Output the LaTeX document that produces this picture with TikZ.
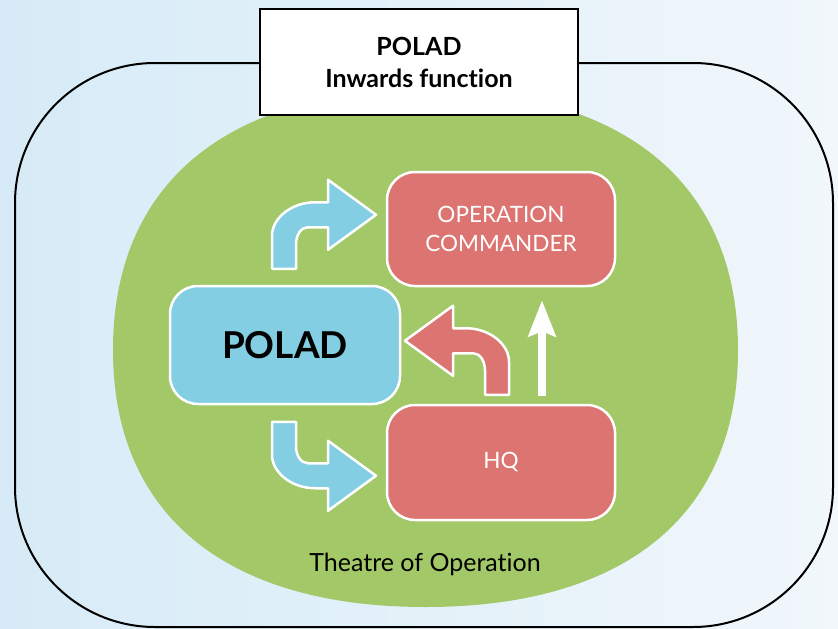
\documentclass[tikz,border=0pt]{standalone}
\usepackage{fontspec}
\setmainfont{Lato}[Ligatures={NoCommon,NoRare}]
\usetikzlibrary{arrows.meta,calc}
\definecolor{bgleft}{HTML}{D6EBF7}
\definecolor{bgright}{HTML}{F1F7FB}
\definecolor{leafgreen}{HTML}{A2C867}
\definecolor{polblue}{HTML}{84CEE3}
\definecolor{cmdred}{HTML}{DC7571}
% outline of a bent block arrow: shaft rising from below, turning right
\newcommand\bendarrowpath{(-12,54) -- (-12,21)
  .. controls (-12,3) and (8,-12.5) .. (31,-12.5) -- (44,-12.5) -- (44,-35)
  -- (92,0) -- (44,35) -- (44,12.5) -- (24,12.5)
  .. controls (17,12.5) and (12,20) .. (12,30) -- (12,54) -- cycle}
\begin{document}
\begin{tikzpicture}[x=1pt,y=-1pt,
  unit/.style={rounded corners=28pt, draw=white, line width=2.5pt,
    minimum width=228pt, minimum height=114pt, align=center},
  redunit/.style={unit, fill=cmdred, text=white,
    font=\fontsize{22.5}{29}\selectfont},
  blockarrow/.style={draw=white, line width=2.5pt, line join=round}]
\useasboundingbox (0,0) rectangle (838,629);
% backdrop
\shade[left color=bgleft, right color=bgright] (0,0) rectangle (838,629);
% theatre boundary
\node[draw=black, line width=2pt, rounded corners=140pt,
  minimum width=818pt, minimum height=564pt] (outer) at (424,345) {};
% green area of the theatre
\fill[leafgreen] (738,350)
  .. controls (738,515) and (625,607) .. (425.5,607)
  .. controls (226,607) and (113,515) .. (113,350)
  .. controls (113,184) and (226,90) .. (425.5,90)
  .. controls (625,90) and (738,184) .. (738,350) -- cycle;
% actors
\node[unit, fill=polblue, minimum width=230pt, minimum height=118pt,
  font=\bfseries\fontsize{37}{40}\selectfont] (polad) at (285,345) {POLAD};
\node[redunit] (oc) at (501,229) {OPERATION\\COMMANDER};
\node[redunit, minimum height=115pt] (hq) at (501,462.5) {HQ};
% bent flows
\begin{scope}[shift={($(polad.north)+(-1,-70)$)}]
  \filldraw[blockarrow, fill=polblue] \bendarrowpath;
\end{scope}
\begin{scope}[shift={($(polad.south)+(-1,70.5)$)}, yscale=-1]
  \filldraw[blockarrow, fill=polblue] \bendarrowpath;
\end{scope}
\begin{scope}[shift={($(hq.north)+(-4,-63)$)}, xscale=-1]
  \filldraw[blockarrow, fill=cmdred] \bendarrowpath;
\end{scope}
% HQ reports up to the commander
\draw[white, line width=8pt, -{Stealth[length=36pt,width=27pt,inset=5pt]}]
  ([xshift=41pt,yshift=8pt]hq.north) -- ([xshift=41pt,yshift=-13pt]oc.south);
% title
\node[draw=black, line width=2.5pt, fill=white, minimum width=318pt,
  minimum height=106pt, align=center,
  font=\bfseries\fontsize{25}{32}\selectfont] (title)
  at ([xshift=-5pt]outer.north) {POLAD\\Inwards function};
\node[font=\fontsize{25}{30}\selectfont] (theatre) at (425,564)
  {Theatre of Operation};
\end{tikzpicture}
\end{document}
